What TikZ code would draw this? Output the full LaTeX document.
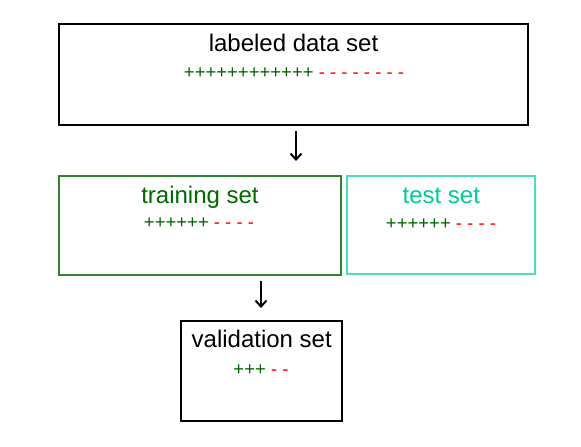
\documentclass[tikz,border=0pt]{standalone}
\usepackage{fontspec}
\setmainfont{Liberation Sans}
\usetikzlibrary{arrows.meta}
\definecolor{pgreen}{RGB}{0,100,0}
\definecolor{trtext}{RGB}{0,105,0}
\definecolor{trbox}{RGB}{50,130,50}
\definecolor{tetext}{RGB}{0,204,150}
\definecolor{tebox}{RGB}{70,224,185}
\newcommand{\pmrow}[2]{{\color{pgreen}#1} {\color{red}#2}}
\tikzset{
  box/.style={draw, line width=1.1pt, minimum width=#1},
  title/.style={anchor=base, inner sep=0pt, font=\fontsize{24}{28}\selectfont},
  row/.style={anchor=base, inner sep=0pt, font=\fontsize{18.5}{22}\selectfont},
  arr/.style={line width=2pt, -{Straight Barb[length=6pt,width=11pt,line width=2pt]}}
}
\begin{document}
\begin{tikzpicture}[x=1pt,y=-1pt]
\useasboundingbox (0,0) rectangle (581,447);
\fill[white] (0,0) rectangle (581,447);
% boxes
\node[box=469pt, minimum height=101pt] (all) at (293.5,74.5) {};
\node[box=282pt, minimum height=99pt, draw=trbox] (train) at (200,225.5) {};
\node[box=188pt, minimum height=98pt, draw=tebox] (test) at (441,225) {};
\node[box=161pt, minimum height=100pt] (val) at (261.5,371) {};
% texts
\node[title] (allt) at (293.5,51) {labeled data set};
\node[row] (allr) at (294,78) {\pmrow{++++++++++++}{- - - - - - - -}};
\node[title, text=trtext] (traint) at (200,203) {training set};
\node[row] (trainr) at (199,228.5) {\pmrow{++++++}{- - - -}};
\node[title, text=tetext] (testt) at (441.3,203) {test set};
\node[row] (testr) at (441,229.5) {\pmrow{++++++}{- - - -}};
\node[title] (valt) at (261.7,347.7) {validation set};
\node[row] (valr) at (261,375) {\pmrow{+++}{- -}};
% arrows
\coordinate (a1s) at (296,131);
\coordinate (a1e) at (296,161);
\coordinate (a2s) at (261,281);
\coordinate (a2e) at (261,308);
\draw[arr] (a1s) -- (a1e);
\draw[arr] (a2s) -- (a2e);
\end{tikzpicture}
\end{document}
